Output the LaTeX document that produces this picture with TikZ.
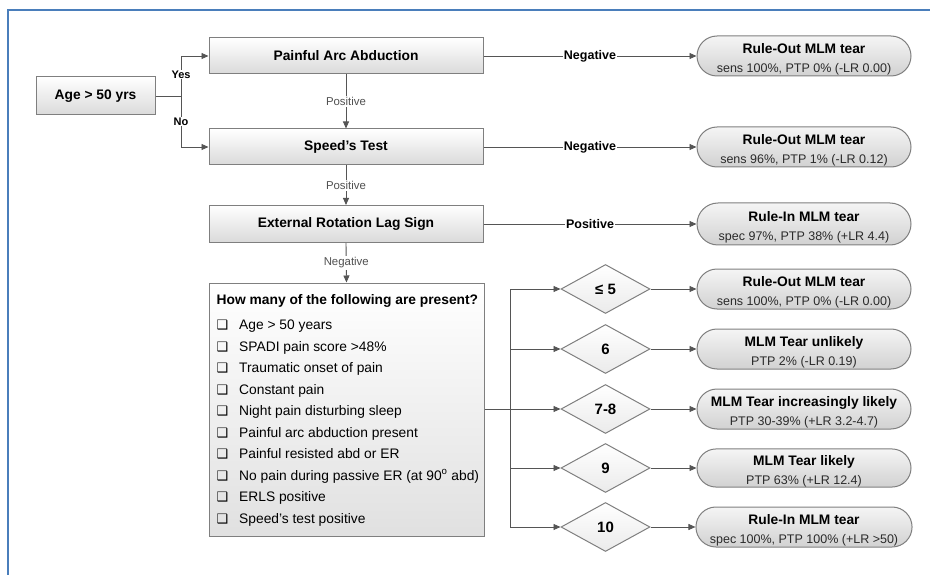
\documentclass[tikz,border=0pt]{standalone}
\usepackage{fontspec}
\setmainfont{Liberation Sans}
\newfontfamily\dejavu{DejaVu Sans}
\usetikzlibrary{shapes.geometric,shapes.misc,arrows.meta}

\definecolor{framec}{HTML}{4A7EBB}
\definecolor{edgec}{HTML}{555555}
\definecolor{borderc}{HTML}{7F7F7F}
\definecolor{fillbot}{HTML}{DADADA}
\definecolor{subc}{HTML}{2A2A2A}
\definecolor{lblc}{HTML}{505050}

% check-box glyph followed by the gap before the item text
\newcommand\chk{\makebox[22.5pt][l]{\dejavu\fontsize{13}{13}\selectfont ❑}}
% two-line text of an outcome capsule (the strut lowers the block a little)
\newcommand\restxt[2]{{\rule{0pt}{16.5pt}\fontsize{13.8}{19}\selectfont\bfseries #1}\\{\color{subc}#2}}

\tikzset{
  testbox/.style={draw=borderc, line width=1pt, rectangle, top color=white, bottom color=fillbot,
    minimum width=274pt, minimum height=36pt, inner sep=0pt,
    font=\fontsize{13.8}{16}\selectfont\bfseries},
  outcome/.style={draw=borderc, line width=1pt, rounded rectangle, top color=black!4, bottom color=black!18,
    minimum width=214pt, minimum height=40pt, inner sep=0pt, align=center,
    font=\fontsize{12.5}{19}\selectfont},
  choice/.style={draw=borderc, line width=1pt, diamond, top color=white, bottom color=black!8,
    minimum width=89pt, minimum height=49pt, inner sep=0pt,
    font=\fontsize{15}{17}\selectfont\bfseries},
  link/.style={draw=edgec, line width=0.9pt},
  arr/.style={link, -{Triangle[length=7pt,width=6pt]}},
  sidelbl/.style={fill=white, inner sep=1pt, font=\fontsize{12.5}{14}\selectfont\bfseries},
  forklbl/.style={fill=white, inner sep=1pt, font=\fontsize{11}{13}\selectfont\bfseries},
  downlbl/.style={fill=white, inner sep=1.5pt, text=lblc, font=\fontsize{11.4}{13}\selectfont},
}

\begin{document}
\begin{tikzpicture}[x=1pt,y=-1pt]
\useasboundingbox (0,0) rectangle (930,575);

% page frame
\draw[framec, line width=2pt] (8,576) -- (8,10) -- (931,10);

% start and the three sequential tests
\node[testbox, minimum width=119pt, minimum height=38pt] (age) at (95.5,96) {Age > 50 yrs};
\node[testbox] (pain)  at (346,56)  {Painful Arc Abduction};
\node[testbox] (speed) at (346,147) {Speed’s Test};
\node[testbox, minimum height=37pt] (erls) at (346,224) {External Rotation Lag Sign};

% cluster of findings (the list node is placed by the baseline of its last line)
\node[draw=borderc, line width=1pt, rectangle, top color=white, bottom color=black!12,
      minimum width=275pt, minimum height=253pt, inner sep=0pt] (quest) at (346.5,409.5) {};
\node[anchor=base west, align=left, inner sep=0pt, font=\fontsize{13.8}{21.5}\selectfont] (qlist) at (216.5,523)
  {\textbf{How many of the following are present?}\\[3.5pt]
   \chk Age > 50 years\\
   \chk SPADI pain score >48\%\\
   \chk Traumatic onset of pain\\
   \chk Constant pain\\
   \chk Night pain disturbing sleep\\
   \chk Painful arc abduction present\\
   \chk Painful resisted abd or ER\\
   \chk No pain during passive ER (at 90\textsuperscript{o} abd)\\
   \chk ERLS positive\\
   \chk Speed’s test positive};

% outcomes of the sequential tests
\node[outcome] (o1) at (804,56)  {\restxt{Rule-Out MLM tear}{sens 100\%, PTP 0\% (-LR 0.00)}};
\node[outcome] (o2) at (804,147) {\restxt{Rule-Out MLM tear}{sens 96\%, PTP 1\% (-LR 0.12)}};
\node[outcome, minimum height=42pt] (o3) at (804,224) {\restxt{Rule-In MLM tear}{spec 97\%, PTP 38\% (+LR 4.4)}};

% count categories and their outcomes
\node[choice] (d1) at (605.5,289) {≤ 5};
\node[choice] (d2) at (605.5,349) {6};
\node[choice] (d3) at (605.5,409) {7-8};
\node[choice] (d4) at (605.5,468) {9};
\node[choice] (d5) at (605.5,527) {10};

\node[outcome] (o4) at (804,289) {\restxt{Rule-Out MLM tear}{sens 100\%, PTP 0\% (-LR 0.00)}};
\node[outcome] (o5) at (804,349) {\restxt{MLM Tear unlikely}{PTP 2\% (-LR 0.19)}};
\node[outcome] (o6) at (804,409) {\restxt{MLM Tear increasingly likely}{PTP 30-39\% (+LR 3.2-4.7)}};
\node[outcome, minimum height=38pt] (o7) at (804,468) {\restxt{MLM Tear likely}{PTP 63\% (+LR 12.4)}};
\node[outcome] (o8) at (804,527) {\restxt{Rule-In MLM tear}{spec 100\%, PTP 100\% (+LR >50)}};

% age split
\coordinate (fork) at (181,96);
\draw[link] (age.east) -- (fork);
\draw[arr] (fork) |- (pain.west) node[pos=0.27, forklbl] {Yes};
\draw[arr] (fork) |- (speed.west) node[pos=0.25, forklbl] {No};

% sequence downwards
\draw[arr] (pain.south) -- (speed.north) node[midway, downlbl] {Positive};
\draw[arr] (speed.south) -- (erls.north) node[midway, downlbl] {Positive};
\draw[arr] (erls.south) -- (quest.north) node[midway, downlbl] {Negative};

% sequence outcomes
\draw[arr] (pain.east) -- (o1.west) node[midway, sidelbl] {Negative};
\draw[arr] (speed.east) -- (o2.west) node[midway, sidelbl] {Negative};
\draw[arr] (erls.east) -- (o3.west) node[midway, sidelbl] {Positive};

% count split
\coordinate (fork2) at (510,409.5);
\draw[link] (quest.east) -- (fork2);
\foreach \k in {1,...,5} {
  \draw[arr] (fork2) |- (d\k.west);
}
\draw[arr] (d1.east) -- (o4.west);
\draw[arr] (d2.east) -- (o5.west);
\draw[arr] (d3.east) -- (o6.west);
\draw[arr] (d4.east) -- (o7.west);
\draw[arr] (d5.east) -- (o8.west);
\end{tikzpicture}
\end{document}
